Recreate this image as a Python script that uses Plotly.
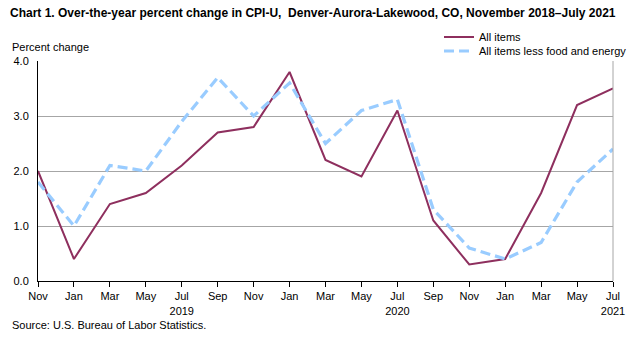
import plotly.graph_objects as go

# Bimonthly reference periods, November 2018 through July 2021
periods = [
    "Nov 2018", "Jan 2019", "Mar 2019", "May 2019", "Jul 2019", "Sep 2019",
    "Nov 2019", "Jan 2020", "Mar 2020", "May 2020", "Jul 2020", "Sep 2020",
    "Nov 2020", "Jan 2021", "Mar 2021", "May 2021", "Jul 2021",
]
tick_labels = [
    "Nov", "Jan", "Mar", "May", "Jul<br>2019", "Sep", "Nov", "Jan", "Mar",
    "May", "Jul<br>2020", "Sep", "Nov", "Jan", "Mar", "May", "Jul<br>2021",
]

# Over-the-year percent change, CPI-U Denver-Aurora-Lakewood
all_items = [2.0, 0.4, 1.4, 1.6, 2.1, 2.7, 2.8, 3.8, 2.2, 1.9, 3.1, 1.1, 0.3, 0.4, 1.6, 3.2, 3.5]
core_items = [1.8, 1.0, 2.1, 2.0, 2.9, 3.7, 3.0, 3.6, 2.5, 3.1, 3.3, 1.3, 0.6, 0.4, 0.7, 1.8, 2.4]

y_ticks = [0.0, 1.0, 2.0, 3.0, 4.0]

FONT = "Liberation Sans, Arial, sans-serif"
W, H = 636, 337
L, R, T, B = 38, 23, 61, 56
PW, PH = W - L - R, H - T - B

fig = go.Figure()
fig.add_trace(go.Scatter(
    x=periods, y=all_items, name="All items", mode="lines",
    line=dict(color="#8E2F5E", width=2), legend="legend",
))
fig.add_trace(go.Scatter(
    x=periods, y=core_items, name="All items less food and energy", mode="lines",
    line=dict(color="#99CCFF", width=3.2, dash="10px,5px"), legend="legend2",
))

legend_common = dict(
    xref="container", yref="container", x=439 / W, xanchor="left",
    yanchor="middle", font=dict(size=11), bgcolor="rgba(0,0,0,0)", itemwidth=30,
)

fig.update_layout(
    width=W, height=H,
    margin=dict(l=L, r=R, t=T, b=B, autoexpand=False),
    paper_bgcolor="white", plot_bgcolor="white",
    font=dict(family=FONT, size=11, color="black"),
    showlegend=True,
    legend=dict(legend_common, y=1 - 37 / H),
    legend2=dict(legend_common, y=1 - 51 / H),
    title=dict(
        text="<b>Chart 1. Over-the-year percent change in CPI-U,  Denver-Aurora-Lakewood, CO, November 2018\u2013July 2021</b>",
        x=10 / W, xanchor="left", y=1 - 13 / H, yanchor="middle",
        font=dict(size=12, family=FONT),
    ),
)

fig.update_xaxes(
    type="category", categoryorder="array", categoryarray=periods,
    range=[0, len(periods) - 1],
    tickmode="array", tickvals=periods, ticktext=tick_labels,
    ticks="outside", ticklen=5, tickcolor="black", tickwidth=1,
    showline=True, linecolor="black", linewidth=1,
    showgrid=False, zeroline=False,
    tickfont=dict(size=11),
)
fig.update_yaxes(
    range=[0, 4], tickmode="array", tickvals=y_ticks,
    ticktext=[f"{v:.1f}" for v in y_ticks],
    showline=True, linecolor="black", linewidth=1,
    showgrid=True, gridcolor="#A6A6A6", gridwidth=1,
    zeroline=False, ticks="", ticklabelstandoff=6,
    tickfont=dict(size=11),
)

# Right-hand border of the plotting area
fig.add_shape(type="line", xref="paper", yref="paper", x0=1, x1=1, y0=0, y1=1,
              line=dict(color="#A6A6A6", width=1))

fig.add_annotation(text="Percent change", xref="paper", yref="paper",
                   x=(10 - L) / PW, y=1 + 14 / PH, xanchor="left", yanchor="middle",
                   showarrow=False, font=dict(size=11))
fig.add_annotation(text="Source: U.S. Bureau of Labor Statistics.", xref="paper", yref="paper",
                   x=(10 - L) / PW, y=-44 / PH, xanchor="left", yanchor="middle",
                   showarrow=False, font=dict(size=11))

fig.write_html("out.html")
